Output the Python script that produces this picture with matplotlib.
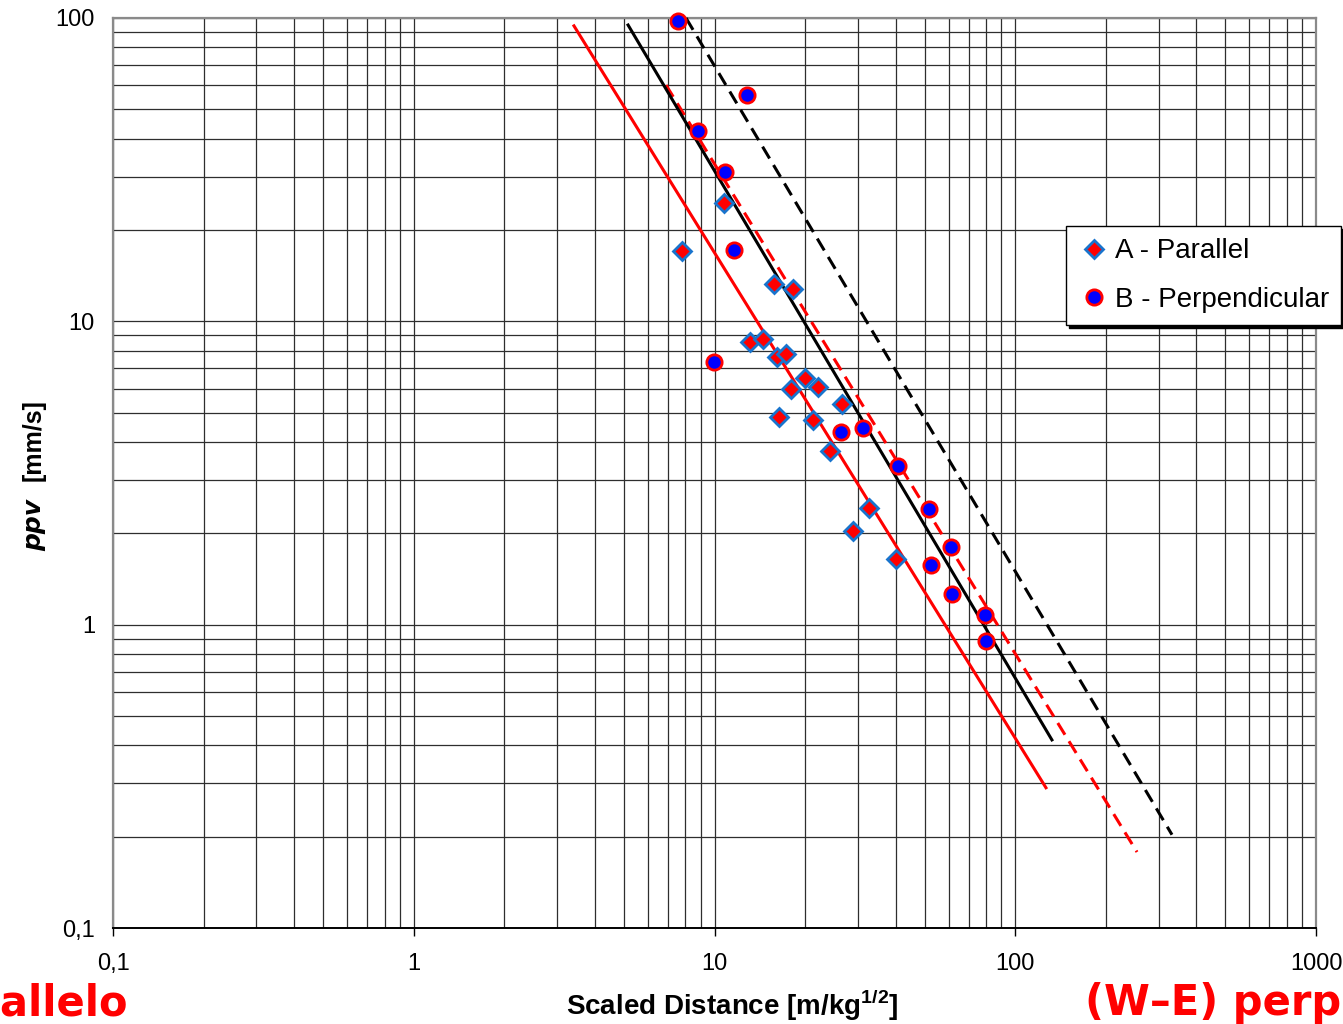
import matplotlib
matplotlib.use("Agg")
import matplotlib.pyplot as plt
from matplotlib.ticker import FixedLocator, FixedFormatter, LogLocator, NullFormatter

plt.rcParams['font.family'] = ['Liberation Sans', 'DejaVu Sans']
plt.rcParams['mathtext.fontset'] = 'custom'
plt.rcParams['mathtext.rm'] = 'Liberation Sans'
plt.rcParams['mathtext.bf'] = 'Liberation Sans:bold'

# --- data ---
# A - Parallel (diamonds)
sd_A = [7.82, 10.78, 15.8, 18.2, 13.1, 14.5, 16.1, 17.3, 20.0, 18.0,
        22.1, 26.5, 16.4, 21.3, 24.3, 32.7, 28.9, 40.0]
ppv_A = [17.1, 24.5, 13.3, 12.8, 8.57, 8.73, 7.65, 7.80, 6.49, 5.98,
         6.09, 5.34, 4.85, 4.73, 3.75, 2.42, 2.03, 1.65]

# B - Perpendicular (circles)
sd_B = [7.56, 12.8, 8.81, 10.8, 11.6, 9.96, 26.3, 31.2, 40.7, 51.7,
        61.1, 52.5, 61.6, 79.3, 79.9]
ppv_B = [97.8, 55.7, 42.4, 31.1, 17.2, 7.35, 4.32, 4.45, 3.33, 2.41,
         1.80, 1.57, 1.26, 1.08, 0.883]

# fitted attenuation laws (end points)
fit_black_sd = [5.16, 132.4]
fit_black_ppv = [94.8, 0.417]
fit_black_dash_sd = [8.04, 332.0]
fit_black_dash_ppv = [100.0, 0.203]
fit_red_sd = [3.41, 126.5]
fit_red_ppv = [94.2, 0.290]
fit_red_dash_sd = [6.90, 254.0]
fit_red_dash_ppv = [60.1, 0.178]

xticks = [0.1, 1, 10, 100, 1000]
xtick_labels = ['0,1', '1', '10', '100', '1000']
yticks = [0.1, 1, 10, 100]
ytick_labels = ['0,1', '1', '10', '100']

fig = plt.figure(figsize=(13.43, 10.24), dpi=100)
ax = fig.add_axes([113/1343, 1 - 928/1024, (1316-113)/1343, (928-18)/1024])
ax.set_xscale('log')
ax.set_yscale('log')
ax.set_xlim(0.1, 1000)
ax.set_ylim(0.1, 100)

### grid
ax.xaxis.set_major_locator(FixedLocator(xticks))
ax.xaxis.set_major_formatter(FixedFormatter(xtick_labels))
ax.yaxis.set_major_locator(FixedLocator(yticks))
ax.yaxis.set_major_formatter(FixedFormatter(ytick_labels))
for axis in (ax.xaxis, ax.yaxis):
    axis.set_minor_locator(LogLocator(base=10, subs=range(2, 10)))
    axis.set_minor_formatter(NullFormatter())
ax.set_axisbelow(True)
ax.grid(True, which='both', color='#2e2e2e', linewidth=0.9)

ax.tick_params(axis='x', which='major', length=6, width=1, direction='out',
               pad=12, labelsize=17)
ax.tick_params(axis='x', which='minor', length=0)
ax.tick_params(axis='y', which='both', length=0, pad=13, labelsize=17)

for s in ('left', 'top', 'right'):
    ax.spines[s].set_color('#8a8a8a')
    ax.spines[s].set_linewidth(1.6)
ax.spines['bottom'].set_color('black')
ax.spines['bottom'].set_linewidth(1.4)

### fit lines
ax.plot(fit_red_sd, fit_red_ppv, color='red', lw=2.2, zorder=3)
ax.plot(fit_red_dash_sd, fit_red_dash_ppv, color='red', lw=2.2,
        dashes=(4.5, 2.5), zorder=3)
ax.plot(fit_black_sd, fit_black_ppv, color='black', lw=2.2, zorder=3)
ax.plot(fit_black_dash_sd, fit_black_dash_ppv, color='black', lw=2.2,
        dashes=(4.5, 2.5), zorder=3, clip_on=False)

### points
ax.plot(sd_A, ppv_A, ls='none', marker='D', ms=9.5, mfc='red',
        mec='#1874CD', mew=2, zorder=4, clip_on=False, label='A - Parallel')
ax.plot(sd_B, ppv_B, ls='none', marker='o', ms=11, mfc='#0000FF',
        mec='red', mew=2, zorder=5, clip_on=False, label='B - Perpendicular')

leg = ax.legend(loc='upper left', bbox_to_anchor=(1066/1343, 1 - 226/1024),
                bbox_transform=fig.transFigure, fontsize=20, frameon=True,
                fancybox=False, shadow={'color': 'black', 'alpha': 1},
                borderpad=0.45, handlelength=1.1, handletextpad=0.2,
                labelspacing=0.8, borderaxespad=0)
leg.get_frame().set_edgecolor('black')
leg.get_frame().set_linewidth(1.0)
leg.get_frame().set_alpha(1)

### axis labels
fig.text(732/1343, 1 - 1015/1024, r'Scaled Distance [m/kg$^{\mathbf{1/2}}$]',
         ha='center', va='baseline', fontsize=20, fontweight='bold')
fig.text(34/1343, 1 - 525/1024, 'ppv', rotation=90, ha='center', va='center',
         fontsize=18, fontweight='bold', fontstyle='italic',
         family=['DejaVu Sans'])
fig.text(34/1343, 1 - 440/1024, '[mm/s]', rotation=90, ha='center',
         va='center', fontsize=18, fontweight='bold')

### bits of the surrounding slide text, cut at the edges
fig.text(128/1343, 1 - 1015/1024, 'Parallelo', ha='right', va='baseline',
         color='red', fontsize=30, fontweight='bold', family=['DejaVu Sans'])
fig.text(1085/1343, 1 - 1015/1024, '(W\u2013E) perpendicolare', ha='left',
         va='baseline', color='red', fontsize=30, fontweight='bold',
         family=['DejaVu Sans'])

fig.savefig('out.png', dpi=100)
